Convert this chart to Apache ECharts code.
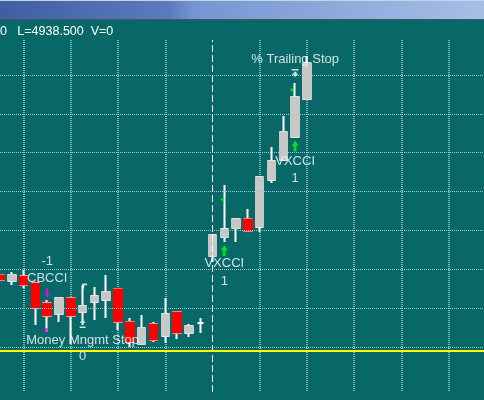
<!DOCTYPE html>
<html><head><meta charset="utf-8">
<script src="https://cdn.jsdelivr.net/npm/echarts/dist/echarts.min.js"></script>
<style>html,body{margin:0;padding:0;background:#086868;}#c{width:484px;height:400px;}</style>
</head><body><div id="c"></div>
<script>
// ---- data ----
const categories = ['0','1','2','3','4','5','6','7','8','9','10','11','12','13','14','15','16','17','18','19','20',
  '21','22','23','24','25','26','27','28','29','30','31','32','33','34','35','36','37','38','39','40','41'];
const opens  = [4927.71,4927.40,4927.65,4927.29,4926.26,4925.70,4926.52,4925.80,4926.32,4926.42,4926.99,4925.29,4924.15,4925.18,4924.57,4925.80,4924.72,4925.24,4928.68,4929.66,4930.12,4930.59,4930.18,4932.60,4933.63,4934.81,4936.76];
const closes = [4927.45,4927.71,4927.19,4926.01,4925.60,4926.52,4925.60,4926.11,4926.62,4926.83,4925.29,4924.26,4924.98,4924.36,4925.70,4924.72,4925.08,4925.24,4929.76,4930.07,4930.59,4929.97,4932.75,4933.57,4935.07,4936.87,4938.60];
const lows   = [4927.40,4927.19,4927.04,4925.13,4924.77,4925.29,4924.15,4925.39,4925.39,4925.49,4924.88,4924.00,4924.15,4924.26,4924.21,4924.41,4924.51,4924.72,4928.37,4929.40,4929.40,4929.92,4929.92,4932.44,4933.63,4934.81,4936.76];
const highs  = [4927.76,4927.86,4927.96,4927.29,4926.42,4926.52,4926.52,4927.19,4927.09,4927.71,4926.99,4925.49,4925.65,4925.29,4926.52,4925.80,4925.18,4925.49,4929.76,4932.34,4930.59,4931.10,4932.75,4934.29,4935.89,4937.59,4938.98];
const gridLevels = [4924,4926,4928,4930,4932,4934,4936,4938];
const yellowLevel = 4923.8;
const sessionBreak = '18';
const verticalGridBars = ['2','6','10','14','22','26','30','34','38'];
const labelTexts  = ['-1','CBCCI','Money Mngmt Stop','0','VXCCI','1','VXCCI','1','% Trailing Stop'];
const labelBars   = [4,4,7,7,19,19,25,25,25];
const labelPrices = [4928.43,4927.55,4924.36,4923.54,4928.32,4927.35,4933.57,4932.70,4938.80];
const markerKinds  = ['downArrow','dot','upArrowBar','flagRight','flagLeft','upArrow','upArrow','tick','downArrowBar'];
const markerBars   = [4,4,7,7,19,19,25,25,25];
const markerPrices = [4926.78,4924.87,4925.21,4927.14,4931.59,4928.97,4934.35,4937.23,4938.10];
const headerText = '0   L=4938.500  V=0';
const yMin = 4921.684, yMax = 4939.801;

// ---- styles ----
const markerStyles = {
  downArrow:   {symbol:'path://M3,0 L7,0 L7,6 L10,6 L5,12 L0,6 L3,6 Z', size:[5,10], offset:[0,0], color:'#ff00ff'},
  dot:         {symbol:'rect', size:[3,4], offset:[-1,0], color:'#ff00ff'},
  upArrowBar:  {symbol:'path://M5,0 L10,5 L7,5 L7,8 L3,8 L3,5 L0,5 Z M0,10 L10,10 L10,12 L0,12 Z', size:[6,9], offset:[0,0], color:'#ffffff'},
  flagRight:   {symbol:'path://M0,0 L10,0 L10,4 L4,4 L4,12 L0,12 Z', size:[5,5], offset:[2,0], color:'#ffffff'},
  flagLeft:    {symbol:'path://M10,0 L0,6 L10,12 Z', size:[4,5], offset:[-2,0], color:'#00ff00'},
  upArrow:     {symbol:'path://M5,0 L10,6 L7,6 L7,12 L3,12 L3,6 L0,6 Z', size:[7,11], offset:[0,0], color:'#00ff00'},
  tick:        {symbol:'rect', size:[3,3], offset:[-3,0], color:'#00ff00'},
  downArrowBar:{symbol:'path://M0,0 L10,0 L10,2 L0,2 Z M3,4 L7,4 L7,7 L10,7 L5,12 L0,7 L3,7 Z', size:[7,8], offset:[0,0], color:'#ffffff'}
};
const FONT = '"Liberation Sans", Arial, sans-serif';

const candleData = opens.map((o,i)=>[o, closes[i], lows[i], highs[i]]);
const bodyData = opens.map((o,i)=>[o, closes[i], Math.min(o,closes[i]), Math.max(o,closes[i])]);

const chart = echarts.init(document.getElementById('c'), null, {renderer:'canvas'});
chart.setOption({
  animation:false,
  backgroundColor:'#086868',
  graphic:[
    {type:'rect', left:0, top:0, shape:{width:484,height:19}, z:100,
     style:{fill:new echarts.graphic.LinearGradient(0,0,1,0,[
       {offset:0,color:'#3f5ea3'},{offset:0.35,color:'#5a7cbf'},{offset:0.4,color:'#7596d2'},{offset:1,color:'#a7bfe6'}])}},
    {type:'rect', left:0, top:0, shape:{width:484,height:1}, z:101, style:{fill:'#c9d3e6'}},
    {type:'rect', left:0, top:19, shape:{width:484,height:1}, z:101, style:{fill:'#4b5560'}},
    {type:'text', left:0, top:25, z:100, style:{text:headerText, fill:'#ffffff', font:'12.5px '+FONT}}
  ],
  grid:{left:-4, right:-4, top:40, bottom:8},
  xAxis:{type:'category', data:categories, boundaryGap:false,
    axisLine:{show:false}, axisTick:{show:false}, axisLabel:{show:false},
    splitLine:{show:true, interval:(i,v)=>verticalGridBars.includes(v),
      lineStyle:{color:'#7ab8b8', width:2, type:[1,1]}}},
  yAxis:{type:'value', min:yMin, max:yMax, show:false},
  series:[
    {type:'line', data:[], z:0, silent:true,
     markLine:{silent:true, symbol:['none','none'], label:{show:false}, animation:false,
       data:[
         ...gridLevels.map(v=>({yAxis:v, lineStyle:{color:'#9ccccc', width:1, type:[1,1]}})),
         {xAxis:sessionBreak, lineStyle:{color:'#ffffff', width:1, type:[7,3]}},
         {yAxis:yellowLevel, lineStyle:{color:'#ffff00', width:2, type:'solid'}}
       ]}},
    {type:'candlestick', name:'wicks', data:candleData, barWidth:7, z:2, silent:true,
     itemStyle:{color:'#ffffff', color0:'#ffffff', borderColor:'#ffffff', borderColor0:'#ffffff', borderColorDoji:'#ffffff', borderWidth:2}},
    {type:'candlestick', name:'bodies', data:bodyData, barWidth:9, z:3, silent:true,
     itemStyle:{color:'#c8c8c8', color0:'#ff0000', borderColor:'#c8c8c8', borderColor0:'#ff0000', borderColorDoji:'rgba(0,0,0,0)', borderWidth:1}},
    {type:'scatter', z:5, silent:true,
     data:markerKinds.map((k,i)=>({value:[markerBars[i], markerPrices[i]],
       symbol:markerStyles[k].symbol, symbolSize:markerStyles[k].size, symbolOffset:markerStyles[k].offset,
       itemStyle:{color:markerStyles[k].color}}))},
    {type:'scatter', z:6, silent:true, symbol:'circle', symbolSize:1, itemStyle:{color:'rgba(0,0,0,0)'},
     data:labelTexts.map((t,i)=>({value:[labelBars[i], labelPrices[i]], name:t})),
     label:{show:true, position:'inside', formatter:p=>p.name, color:'#ffffff', fontSize:13, fontFamily:FONT}}
  ]
});
</script></body></html>
